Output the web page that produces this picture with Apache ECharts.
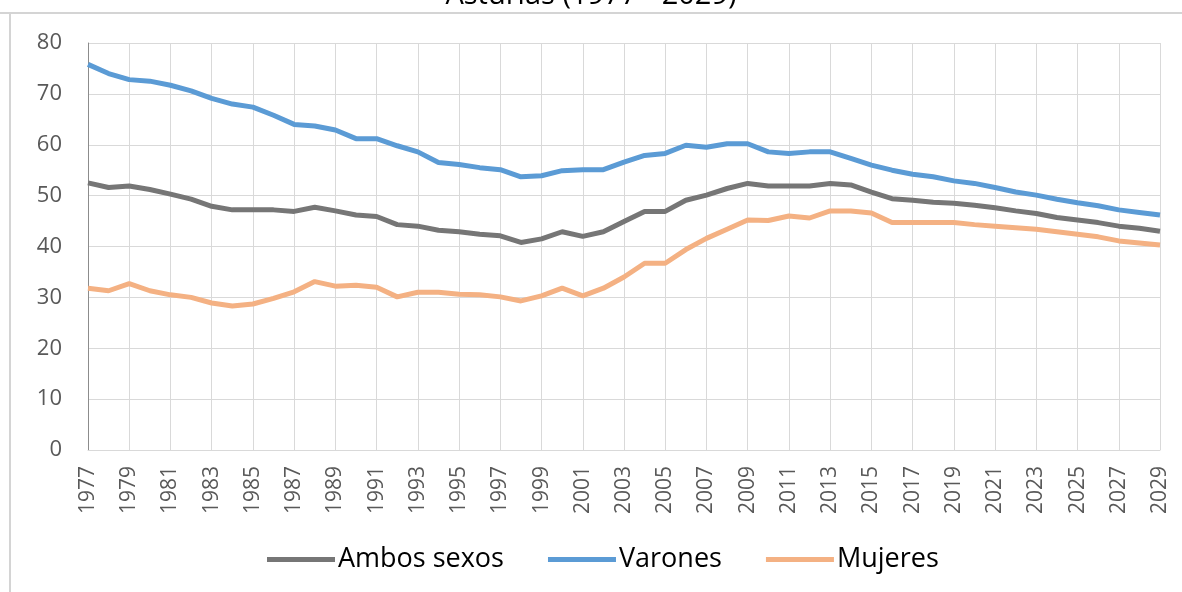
<!DOCTYPE html>
<html><head><meta charset="utf-8">
<script src="https://cdn.jsdelivr.net/npm/echarts@6/dist/echarts.min.js"></script>
<style>html,body{margin:0;padding:0;background:#fff}#c{width:1182px;height:592px}</style>
</head><body><div id="c"></div>
<script>
const years = [];
for (let y = 1977; y <= 2029; y++) years.push(String(y));
const ambos = [52.5,51.6,51.9,51.2,50.3,49.3,47.9,47.2,47.2,47.2,46.9,47.7,47.0,46.2,45.9,44.3,44.0,43.2,42.9,42.4,42.1,40.8,41.5,42.9,42.0,42.9,44.9,46.9,46.9,49.1,50.1,51.4,52.4,51.9,51.9,51.9,52.4,52.1,50.7,49.4,49.1,48.7,48.5,48.1,47.6,47.0,46.5,45.7,45.2,44.7,44.0,43.6,43.0];
const varones = [75.8,74.0,72.8,72.5,71.7,70.6,69.1,68.0,67.4,65.8,64.0,63.7,62.9,61.2,61.2,59.8,58.6,56.5,56.1,55.5,55.1,53.7,53.9,54.9,55.1,55.1,56.6,57.9,58.3,59.9,59.5,60.2,60.2,58.6,58.3,58.6,58.6,57.3,56.0,55.0,54.2,53.7,52.9,52.4,51.6,50.7,50.1,49.3,48.6,48.0,47.2,46.7,46.2];
const mujeres = [31.8,31.3,32.7,31.3,30.5,30.0,28.9,28.3,28.7,29.8,31.1,33.1,32.2,32.4,32.0,30.1,31.0,31.0,30.6,30.5,30.1,29.3,30.3,31.8,30.3,31.8,34.0,36.7,36.7,39.4,41.6,43.4,45.2,45.1,46.0,45.6,47.0,47.0,46.6,44.7,44.7,44.7,44.7,44.3,44.0,43.7,43.4,42.9,42.4,41.9,41.1,40.7,40.3];
const seriesNames = ['Ambos sexos','Varones','Mujeres'];
const colors = ['#767676','#5B9BD5','#F4B183'];
const titleText = 'Asturias (1977 - 2029)';
const yTicks = {min:0,max:80,interval:10};

const chart = echarts.init(document.getElementById('c'));
const font = 'Open Sans';
chart.setOption({
  animation:false,
  backgroundColor:'#fff',
  title:{text:titleText,left:'center',top:-24,textStyle:{fontFamily:font,fontSize:29,fontWeight:'normal',color:'#000'}},
  graphic:[
    {type:'line',shape:{x1:0,y1:13,x2:1182,y2:13},style:{stroke:'#d4d4d4',lineWidth:2},z:10},
    {type:'line',shape:{x1:10,y1:13,x2:10,y2:592},style:{stroke:'#d4d4d4',lineWidth:2},z:10}
  ],
  grid:{left:88,right:22,top:43,bottom:142,containLabel:false},
  legend:{top:541,left:262,itemWidth:68,itemHeight:5,itemGap:44,icon:'rect',
    textStyle:{fontFamily:font,fontSize:27,color:'#000',padding:[0,0,0,-2]},data:seriesNames},
  xAxis:{type:'category',data:years,boundaryGap:false,
    axisLine:{lineStyle:{color:'#d9d9d9'}},axisTick:{show:false},
    axisLabel:{interval:1,rotate:90,fontFamily:font,fontSize:21,color:'#595959',margin:16},
    splitLine:{show:true,interval:1,lineStyle:{color:'#d9d9d9'}}},
  yAxis:{type:'value',min:yTicks.min,max:yTicks.max,interval:yTicks.interval,
    axisLine:{show:true,lineStyle:{color:'#8c8c8c'}},axisTick:{show:false},
    axisLabel:{fontFamily:font,fontSize:22,color:'#595959',margin:26},
    splitLine:{lineStyle:{color:'#d9d9d9'}}},
  series:[ambos,varones,mujeres].map((d,i)=>({
    name:seriesNames[i],type:'line',data:d,symbol:'none',
    lineStyle:{width:5,color:colors[i]},itemStyle:{color:colors[i]}
  }))
});
</script></body></html>
